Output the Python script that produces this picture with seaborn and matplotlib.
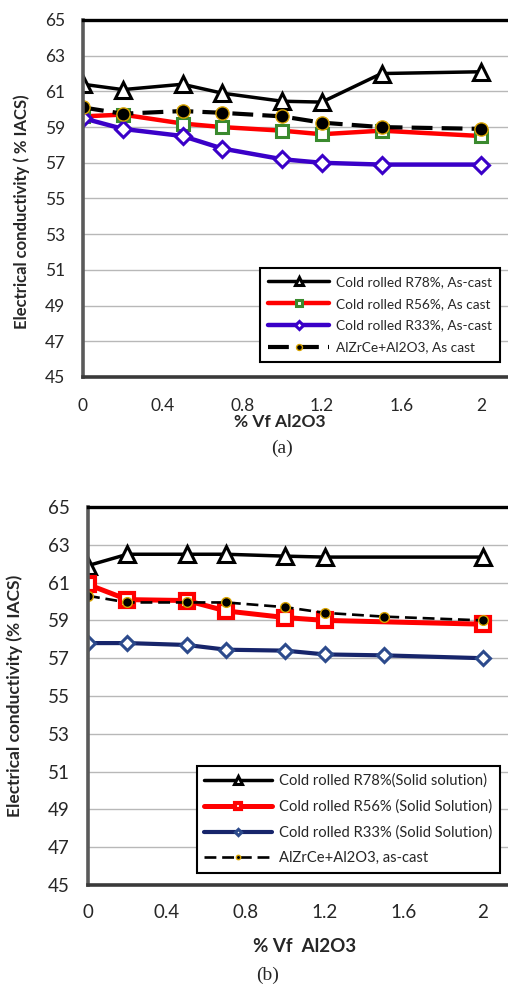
import matplotlib
matplotlib.use("Agg")
import matplotlib.pyplot as plt
import seaborn as sns

# (a) cold rolled from as-cast
vf_a = [0, 0.2, 0.5, 0.7, 1.0, 1.2, 1.5, 2.0]
r78_cast = [61.4, 61.1, 61.4, 60.9, 60.45, 60.4, 62.0, 62.1]
r56_cast = [59.6, 59.7, 59.2, 59.0, 58.8, 58.6, 58.8, 58.5]
r33_cast = [59.5, 58.9, 58.5, 57.8, 57.2, 57.0, 56.9, 56.9]
base_a = [60.1, 59.75, 59.9, 59.8, 59.6, 59.25, 59.0, 58.9]

# (b) cold rolled from solid solution (R78, R56 have no 1.5 point)
vf_b7 = [0, 0.2, 0.5, 0.7, 1.0, 1.2, 2.0]
vf_b = [0, 0.2, 0.5, 0.7, 1.0, 1.2, 1.5, 2.0]
r78_ss = [61.9, 62.5, 62.5, 62.5, 62.4, 62.35, 62.35]
r56_ss = [60.9, 60.1, 60.05, 59.5, 59.15, 59.0, 58.8]
r33_ss = [57.8, 57.8, 57.7, 57.45, 57.4, 57.2, 57.15, 57.0]
base_b = [60.3, 59.95, 59.95, 59.95, 59.7, 59.4, 59.2, 59.0]

labels_a = ["Cold rolled R78%, As-cast", "Cold rolled R56%, As cast",
            "Cold rolled R33%, As-cast", "AlZrCe+Al2O3, As cast"]
labels_b = ["Cold rolled R78%(Solid solution)", "Cold rolled R56% (Solid Solution)",
            "Cold rolled R33% (Solid Solution)", "AlZrCe+Al2O3, as-cast"]

yticks = [45, 47, 49, 51, 53, 55, 57, 59, 61, 63, 65]
xticks = [0, 0.4, 0.8, 1.2, 1.6, 2.0]
xticklabels = ["0", "0.4", "0.8", "1.2", "1.6", "2"]

sns.set_style("white")
plt.rcParams["font.family"] = ["Lato", "DejaVu Sans"]

W, H = 508, 988
fig = plt.figure(figsize=(W / 100, H / 100), dpi=100)
ax_a = fig.add_axes([83 / W, 1 - 377 / H, 425 / W, 357 / H])
ax_b = fig.add_axes([88 / W, 1 - 885 / H, 420 / W, 378 / H])

# ---- panel a ----
sns.lineplot(x=vf_a, y=r78_cast, ax=ax_a, color="black", linewidth=2.5,
             marker="^", markersize=12, markerfacecolor="white",
             markeredgecolor="black", markeredgewidth=2.2, label=labels_a[0])
sns.lineplot(x=vf_a, y=r56_cast, ax=ax_a, color="#ff0000", linewidth=3.2,
             marker="s", markersize=9, markerfacecolor="white",
             markeredgecolor="#3a8a2e", markeredgewidth=2.2, label=labels_a[1])
sns.lineplot(x=vf_a, y=r33_cast, ax=ax_a, color="#3a00c8", linewidth=3.2,
             marker="D", markersize=8, markerfacecolor="white",
             markeredgecolor="#3a00c8", markeredgewidth=2.2, label=labels_a[2])
sns.lineplot(x=vf_a, y=base_a, ax=ax_a, color="black", linewidth=3,
             linestyle=(0, (5, 2.2)), marker="o", markersize=9.5,
             markerfacecolor="black", markeredgecolor="#d9a400",
             markeredgewidth=1.0, label=labels_a[3])

# ---- panel b ----
sns.lineplot(x=vf_b7, y=r78_ss, ax=ax_b, color="black", linewidth=2.5,
             marker="^", markersize=11.5, markerfacecolor="white",
             markeredgecolor="black", markeredgewidth=2.2, label=labels_b[0])
sns.lineplot(x=vf_b7, y=r56_ss, ax=ax_b, color="#ff0000", linewidth=3.6,
             marker="s", markersize=10, markerfacecolor="white",
             markeredgecolor="#ff0000", markeredgewidth=3, label=labels_b[1])
sns.lineplot(x=vf_b, y=r33_ss, ax=ax_b, color="#17256b", linewidth=3,
             marker="D", markersize=7, markerfacecolor="white",
             markeredgecolor="#2c4a8c", markeredgewidth=2.2, label=labels_b[2])
sns.lineplot(x=vf_b, y=base_b, ax=ax_b, color="black", linewidth=1.9,
             linestyle=(0, (4.5, 2.2)), marker="o", markersize=7,
             markerfacecolor="black", markeredgecolor="#d9a400",
             markeredgewidth=1.0, label=labels_b[3])

for ax, left_px, px_per_unit in [(ax_a, 83, 199), (ax_b, 88, 197.3)]:
    ax.set_ylim(45, 65)
    ax.set_xlim(0, (W - left_px) / px_per_unit)
    ax.set_yticks(yticks)
    ax.set_xticks(xticks)
    ax.set_xticklabels(xticklabels)
    ax.yaxis.grid(True, color="#b8b8b8", linewidth=1)
    ax.xaxis.grid(False)
    ax.set_axisbelow(True)
    ax.spines["right"].set_visible(False)
    ax.spines["top"].set_color("black")
    ax.spines["top"].set_linewidth(2.4)
    ax.spines["left"].set_color("#5a5a5a")
    ax.spines["left"].set_linewidth(2.6)
    ax.spines["bottom"].set_color("#3a3a3a")
    ax.spines["bottom"].set_linewidth(2.6)
    ax.set_xlabel("")
    ax.set_ylabel("")

ax_a.tick_params(axis="y", length=4, width=1, color="#777777", labelsize=12.5, pad=9)
ax_a.tick_params(axis="x", length=4, width=1, color="#777777", labelsize=12.5, pad=11)
ax_b.tick_params(axis="y", length=0, labelsize=13.5, pad=13)
ax_b.tick_params(axis="x", length=0, labelsize=13.5, pad=14)

leg_a = ax_a.legend(loc="upper right", bbox_to_anchor=(0.998, 0.325), fontsize=9.8,
                    frameon=True, fancybox=False, edgecolor="black", framealpha=1,
                    handlelength=4.5, labelspacing=0.72, markerscale=0.45,
                    borderpad=0.6, handletextpad=0.5)
leg_a.get_frame().set_linewidth(1.5)
leg_b = ax_b.legend(loc="upper right", bbox_to_anchor=(0.998, 0.333), fontsize=10.6,
                    frameon=True, fancybox=False, edgecolor="black", framealpha=1,
                    handlelength=4.6, labelspacing=0.78, markerscale=0.45,
                    borderpad=0.5, handletextpad=0.5)
leg_b.get_frame().set_linewidth(1.5)

# axis titles and panel captions
fig.text(22 / W, 1 - 212 / H, "Electrical conductivity ( % IACS)", rotation=90,
         ha="center", va="center", fontsize=12, fontweight="bold")
fig.text(280 / W, 1 - 422 / H, "% Vf Al2O3", ha="center", va="center",
         fontsize=12.5, fontweight="bold")
fig.text(282 / W, 1 - 448 / H, "(a)", ha="center", va="center",
         fontsize=14, family="Liberation Serif")

fig.text(15 / W, 1 - 696 / H, "Electrical conductivity (% IACS)", rotation=90,
         ha="center", va="center", fontsize=12.5, fontweight="bold")
fig.text(305 / W, 1 - 946 / H, "% Vf  Al2O3", ha="center", va="center",
         fontsize=13.5, fontweight="bold")
fig.text(268 / W, 1 - 975 / H, "(b)", ha="center", va="center",
         fontsize=14, family="Liberation Serif")

fig.savefig("out.png", dpi=100)
